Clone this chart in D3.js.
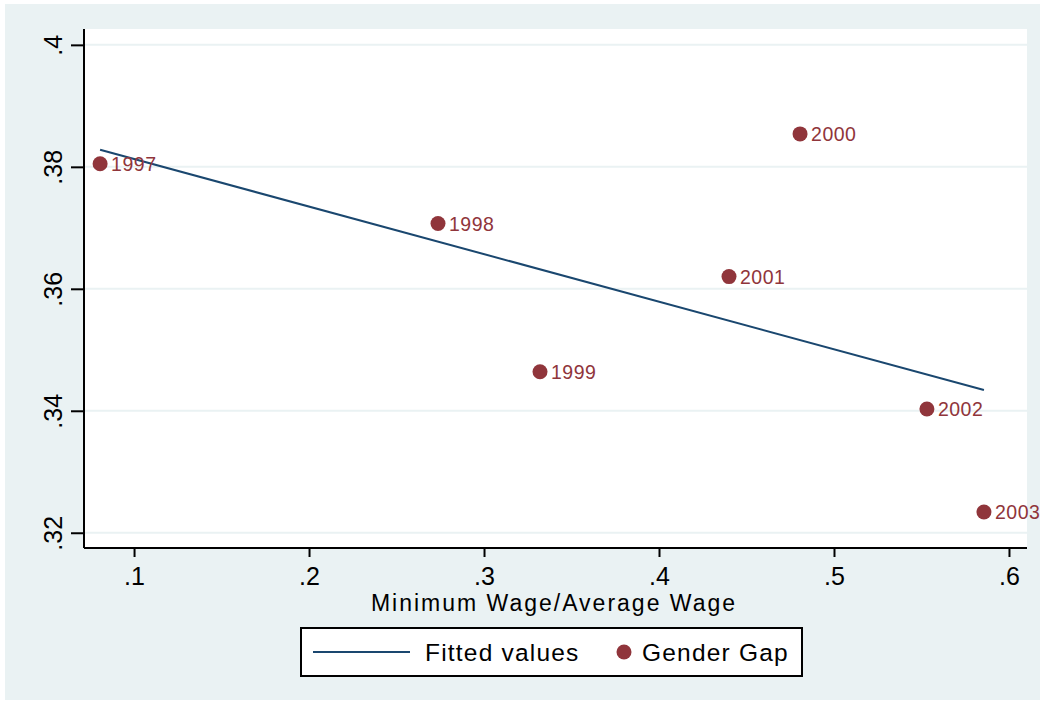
<!DOCTYPE html>
<html>
<head>
<meta charset="utf-8">
<script src="https://cdn.jsdelivr.net/npm/d3@7"></script>
<style>
  body { margin: 0; background: #fff; }
  svg { display: block; font-family: "Liberation Sans", Arial, sans-serif; }
</style>
</head>
<body>
<div id="viz"></div>
<script>
const width = 1042;
const height = 703;
const margin = {top: 29, right: 15, bottom: 155, left: 84};

// data
const years = ['1997', '1998', '1999', '2000', '2001', '2002', '2003'];
const wageRatio = [0.0806, 0.2737, 0.332, 0.4806, 0.44, 0.5531, 0.5857];
const genderGap = [0.3805, 0.3707, 0.3464, 0.3854, 0.362, 0.3403, 0.3234];
const fittedX = [0.0806, 0.5857];
const fittedY = [0.3828, 0.3434];
const xTicks = [0.1, 0.2, 0.3, 0.4, 0.5, 0.6];
const yTicks = [0.32, 0.34, 0.36, 0.38, 0.4];

const navy = '#1A476F';
const maroon = '#90353B';
const bg = '#EAF2F3';

const svg = d3.select('#viz')
  .append('svg')
    .attr('width', width)
    .attr('height', height);

// outer background
svg.append('rect')
  .attr('x', 5).attr('y', 4)
  .attr('width', width - 7).attr('height', height - 7)
  .attr('fill', bg);

const xScale = d3.scaleLinear()
  .domain([0.0714, 0.6103])
  .range([margin.left, width - margin.right]);

const yScale = d3.scaleLinear()
  .domain([0.3175, 0.4026])
  .range([height - margin.bottom, margin.top]);

// plot region
svg.append('rect')
  .attr('x', margin.left).attr('y', margin.top)
  .attr('width', width - margin.right - margin.left)
  .attr('height', height - margin.bottom - margin.top)
  .attr('fill', '#fff');

// grid lines
svg.append('g')
  .selectAll('line')
  .data(yTicks)
  .join('line')
    .attr('x1', margin.left).attr('x2', width - margin.right)
    .attr('y1', d => yScale(d)).attr('y2', d => yScale(d))
    .attr('stroke', bg)
    .attr('stroke-width', 2);

const fmt = d => d3.format('.2~f')(d).replace(/^0/, '');

// x axis
const xAxis = d3.axisBottom(xScale)
  .tickValues(xTicks)
  .tickSize(9)
  .tickPadding(10)
  .tickFormat(fmt);

const xAxisGroup = svg.append('g')
  .attr('transform', `translate(0, ${height - margin.bottom})`)
  .call(xAxis)
  .attr('font-family', null);
xAxisGroup.select('.domain')
  .attr('d', `M${margin.left},0H${width - margin.right}`)
  .attr('stroke-width', 2);
xAxisGroup.selectAll('.tick line').attr('stroke-width', 2);
xAxisGroup.selectAll('.tick text')
  .style('font-size', '25px')
  .attr('fill', '#000');

// y axis
const yAxis = d3.axisLeft(yScale)
  .tickValues(yTicks)
  .tickSize(13)
  .tickFormat(fmt);

const yAxisGroup = svg.append('g')
  .attr('transform', `translate(${margin.left}, 0)`)
  .call(yAxis)
  .attr('font-family', null);
yAxisGroup.select('.domain')
  .attr('d', `M0,${margin.top}V${height - margin.bottom}`)
  .attr('stroke-width', 2);
yAxisGroup.selectAll('.tick line').attr('stroke-width', 2);
yAxisGroup.selectAll('.tick text')
  .attr('x', 0).attr('dy', 0)
  .attr('transform', 'translate(-22,0) rotate(-90)')
  .attr('text-anchor', 'middle')
  .style('font-size', '25px')
  .attr('fill', '#000');

// x axis title
svg.append('text')
  .attr('x', 554)
  .attr('y', 611)
  .attr('text-anchor', 'middle')
  .style('font-size', '23px')
  .style('letter-spacing', '2px')
  .text('Minimum Wage/Average Wage');

// fitted line
const line = d3.line()
  .x(d => xScale(d[0]))
  .y(d => yScale(d[1]));

svg.append('path')
  .datum(fittedX.map((x, i) => [x, fittedY[i]]))
  .attr('d', line)
  .attr('fill', 'none')
  .attr('stroke', navy)
  .attr('stroke-width', 2);

// scatter points
const points = years.map((y, i) => ({year: y, x: wageRatio[i], y: genderGap[i]}));

svg.append('g')
  .selectAll('circle')
  .data(points)
  .join('circle')
    .attr('cx', d => xScale(d.x))
    .attr('cy', d => yScale(d.y))
    .attr('r', 7.5)
    .attr('fill', maroon);

svg.append('g')
  .selectAll('text')
  .data(points)
  .join('text')
    .attr('x', d => xScale(d.x) + 11)
    .attr('y', d => yScale(d.y) + 7)
    .style('font-size', '19.5px')
    .style('letter-spacing', '0.5px')
    .attr('fill', maroon)
    .text(d => d.year);

// legend
const legend = svg.append('g');
legend.append('rect')
  .attr('x', 301).attr('y', 628)
  .attr('width', 501).attr('height', 48)
  .attr('fill', '#fff')
  .attr('stroke', '#000')
  .attr('stroke-width', 2);
legend.append('line')
  .attr('x1', 313).attr('x2', 410)
  .attr('y1', 652).attr('y2', 652)
  .attr('stroke', navy)
  .attr('stroke-width', 2);
legend.append('text')
  .attr('x', 425).attr('y', 661)
  .style('font-size', '24.5px')
  .style('letter-spacing', '1.2px')
  .text('Fitted values');
legend.append('circle')
  .attr('cx', 624).attr('cy', 652)
  .attr('r', 7.5)
  .attr('fill', maroon);
legend.append('text')
  .attr('x', 642).attr('y', 661)
  .style('font-size', '24.5px')
  .style('letter-spacing', '1.2px')
  .text('Gender Gap');
</script>
</body>
</html>
